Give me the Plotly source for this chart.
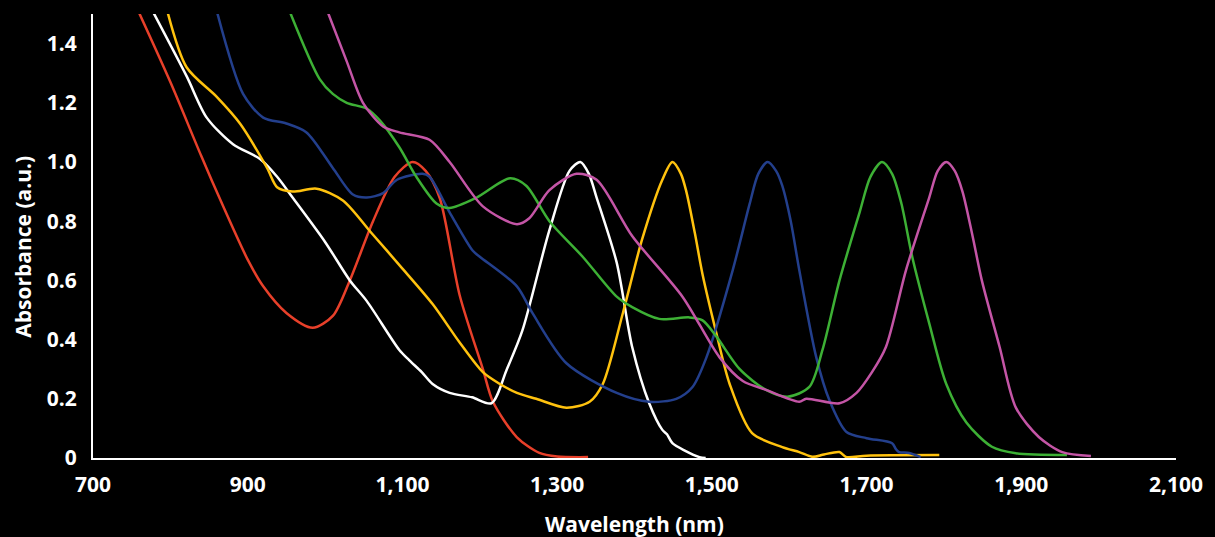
import plotly.graph_objects as go

# ---- data ----
red_x = [755, 800, 840, 870, 900, 920, 950, 984, 1010, 1032, 1062, 1090, 1113, 1130, 1148, 1174, 1204, 1217, 1248, 1277, 1300, 1340]
red_y = [1.53, 1.27, 1.02, 0.84, 0.67, 0.58, 0.49, 0.44, 0.48, 0.60, 0.80, 0.95, 1.00, 0.97, 0.88, 0.55, 0.30, 0.19, 0.07, 0.017, 0.005, 0.003]

white_x = [773, 821, 847, 881, 916, 938, 958, 1000, 1032, 1054, 1096, 1109, 1125, 1139, 1161, 1190, 1215, 1235, 1255, 1290, 1316, 1330, 1341, 1351, 1377, 1397, 1419, 1436, 1442, 1449, 1465, 1484, 1492]
white_y = [1.53, 1.29, 1.15, 1.06, 1.01, 0.95, 0.88, 0.73, 0.60, 0.53, 0.365, 0.33, 0.29, 0.25, 0.22, 0.205, 0.185, 0.30, 0.43, 0.77, 0.97, 1.00, 0.96, 0.88, 0.66, 0.375, 0.185, 0.095, 0.08, 0.05, 0.025, 0.003, 0.0]

yellow_x = [794, 821, 860, 890, 925, 938, 958, 989, 1023, 1060, 1100, 1139, 1174, 1204, 1226, 1248, 1273, 1312, 1342, 1359, 1385, 1410, 1436, 1449, 1460, 1467, 1478, 1488, 1506, 1523, 1552, 1591, 1613, 1630, 1645, 1665, 1674, 1700, 1794]
yellow_y = [1.53, 1.32, 1.22, 1.13, 0.98, 0.915, 0.90, 0.91, 0.87, 0.76, 0.64, 0.52, 0.39, 0.29, 0.25, 0.22, 0.20, 0.17, 0.19, 0.25, 0.49, 0.74, 0.94, 1.00, 0.96, 0.90, 0.76, 0.62, 0.42, 0.25, 0.084, 0.037, 0.02, 0.004, 0.012, 0.02, 0.003, 0.008, 0.01]

blue_x = [858, 894, 920, 950, 976, 1010, 1036, 1054, 1075, 1093, 1126, 1135, 1161, 1191, 1200, 1248, 1268, 1312, 1377, 1419, 1454, 1475, 1493, 1527, 1549, 1560, 1572, 1583, 1591, 1602, 1613, 1635, 1652, 1674, 1700, 1733, 1738, 1742, 1755, 1770]
blue_y = [1.53, 1.23, 1.15, 1.13, 1.10, 0.98, 0.89, 0.88, 0.895, 0.94, 0.96, 0.95, 0.83, 0.70, 0.68, 0.58, 0.49, 0.32, 0.22, 0.19, 0.20, 0.24, 0.34, 0.635, 0.86, 0.96, 1.00, 0.97, 0.92, 0.80, 0.635, 0.34, 0.195, 0.088, 0.067, 0.05, 0.03, 0.02, 0.017, 0.003]

green_x = [951, 993, 1010, 1028, 1054, 1071, 1096, 1118, 1144, 1161, 1196, 1239, 1260, 1290, 1333, 1377, 1397, 1432, 1471, 1488, 1506, 1536, 1570, 1598, 1626, 1643, 1665, 1691, 1705, 1720, 1733, 1745, 1759, 1781, 1803, 1829, 1862, 1893, 1959]
green_y = [1.53, 1.28, 1.23, 1.20, 1.18, 1.14, 1.05, 0.95, 0.86, 0.845, 0.88, 0.945, 0.92, 0.80, 0.68, 0.545, 0.51, 0.47, 0.475, 0.465, 0.41, 0.30, 0.23, 0.207, 0.24, 0.365, 0.60, 0.83, 0.95, 1.00, 0.96, 0.86, 0.68, 0.455, 0.25, 0.12, 0.038, 0.016, 0.01]

pink_x = [1000, 1028, 1049, 1075, 1096, 1135, 1161, 1204, 1248, 1264, 1290, 1325, 1351, 1397, 1462, 1510, 1540, 1570, 1613, 1622, 1665, 1687, 1707, 1725, 1751, 1781, 1792, 1803, 1814, 1824, 1837, 1849, 1872, 1893, 1923, 1953, 1990]
pink_y = [1.53, 1.34, 1.20, 1.12, 1.10, 1.075, 1.00, 0.85, 0.79, 0.81, 0.905, 0.96, 0.94, 0.75, 0.545, 0.34, 0.26, 0.23, 0.19, 0.20, 0.185, 0.22, 0.29, 0.375, 0.635, 0.88, 0.97, 1.00, 0.97, 0.90, 0.75, 0.60, 0.375, 0.17, 0.07, 0.02, 0.007]

x_ticks = [700, 900, 1100, 1300, 1500, 1700, 1900, 2100]
y_ticks = [0, 0.2, 0.4, 0.6, 0.8, 1.0, 1.2, 1.4]
y_tick_text = ["0", "0.2", "0.4", "0.6", "0.8", "1.0", "1.2", "1.4"]

series = [
    ("Red", red_x, red_y, "#e8402a"),
    ("White", white_x, white_y, "#ffffff"),
    ("Yellow", yellow_x, yellow_y, "#ffc20e"),
    ("Blue", blue_x, blue_y, "#233f8c"),
    ("Green", green_x, green_y, "#3db035"),
    ("Pink", pink_x, pink_y, "#c455a6"),
]

fig = go.Figure()
for name, xs, ys, col in series:
    fig.add_trace(go.Scatter(x=xs, y=ys, mode="lines", name=name,
                             line=dict(color=col, width=2.5, shape="spline", smoothing=0.8)))

font_family = "'Open Sans', Lato, sans-serif"
tfont = dict(size=21, family=font_family, color="#ffffff", weight="bold")
fig.update_layout(
    width=1215, height=537,
    paper_bgcolor="#000000", plot_bgcolor="#000000",
    margin=dict(l=93, r=37, t=14, b=79),
    showlegend=False,
    font=dict(family=font_family, color="#ffffff", size=21, weight="bold"),
    xaxis=dict(range=[700, 2100], tickvals=x_ticks, tickformat=",d",
               showgrid=False, zeroline=False, showline=True, linecolor="#ffffff", linewidth=2,
               ticks="", ticklabelstandoff=7, tickfont=tfont),
    yaxis=dict(range=[0, 1.5], tickvals=y_ticks, ticktext=y_tick_text,
               showgrid=False, zeroline=False, showline=True, linecolor="#ffffff", linewidth=2,
               ticks="", ticklabelstandoff=10, tickfont=tfont),
    annotations=[
        dict(text="Wavelength (nm)", x=0.5, xref="paper", y=-0.149, yref="paper",
             xanchor="center", yanchor="middle", showarrow=False, font=tfont),
        dict(text="Absorbance (a.u.)", x=-0.065, xref="paper", y=0.475, yref="paper",
             xanchor="center", yanchor="middle", showarrow=False, textangle=-90, font=tfont),
    ],
)

fig.write_html("out.html")
